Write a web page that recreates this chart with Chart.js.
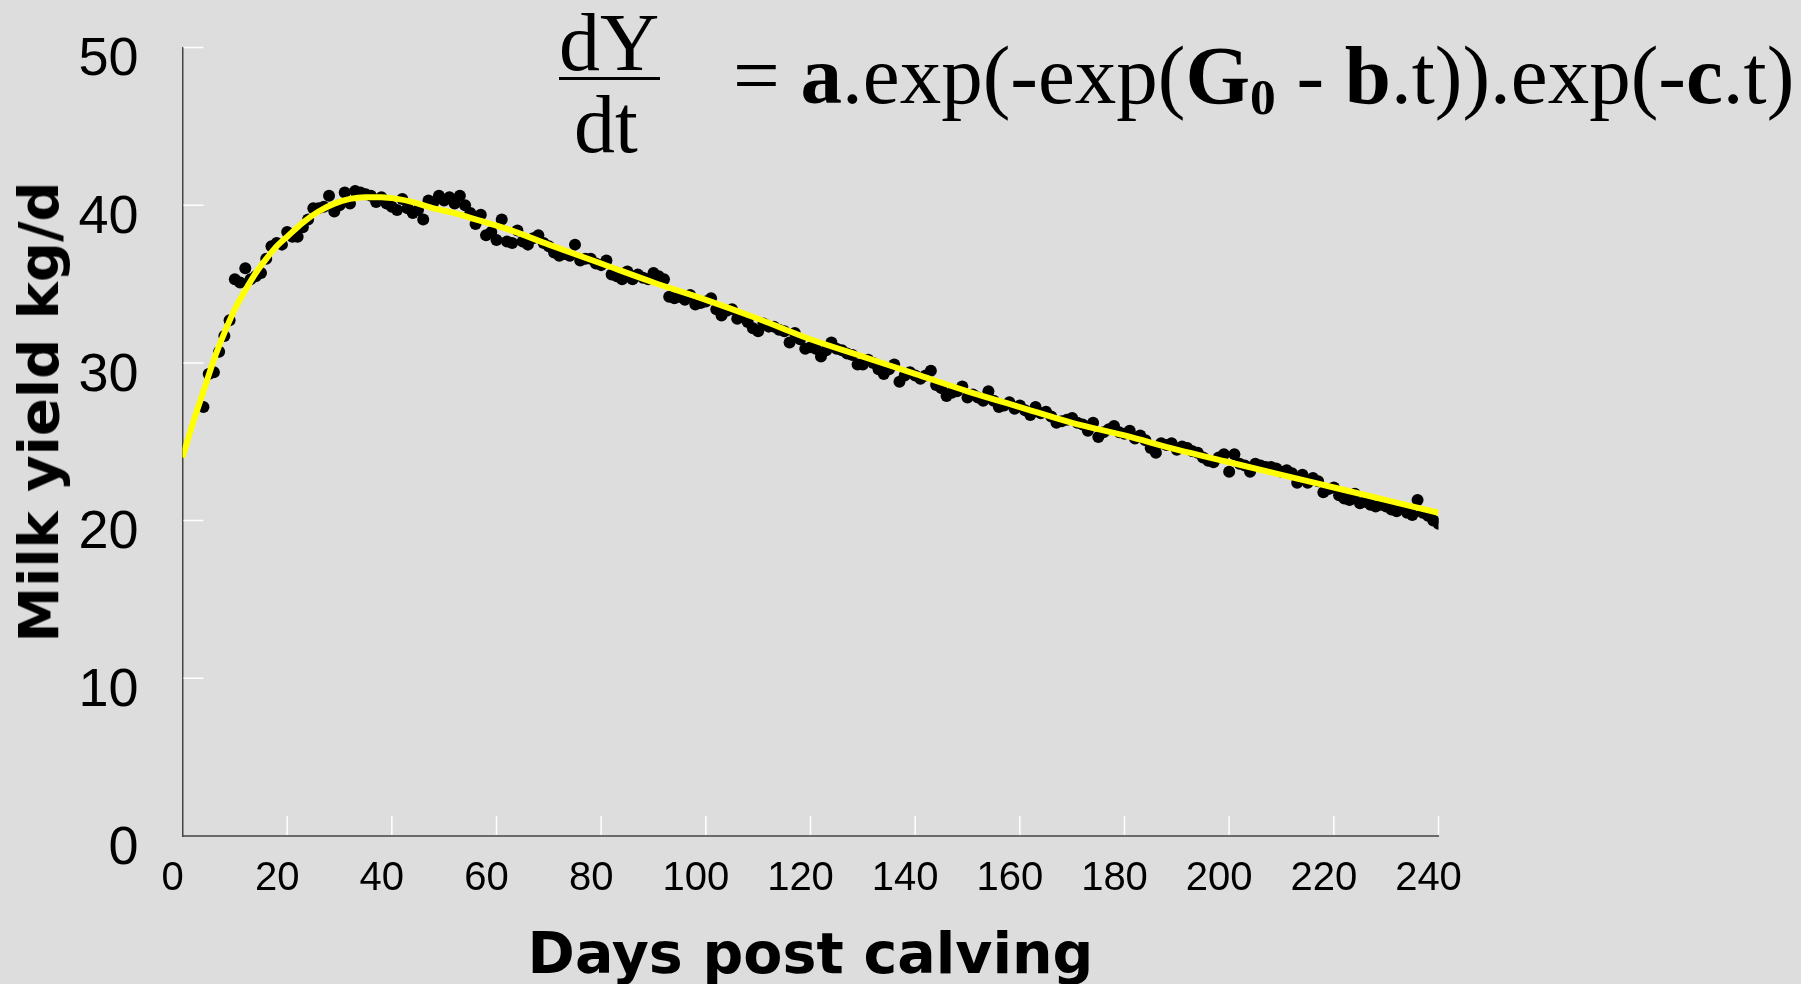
<!DOCTYPE html>
<html>
<head>
<meta charset="utf-8">
<script src="https://cdn.jsdelivr.net/npm/chart.js@4.4.1/dist/chart.umd.min.js"></script>
<style>
    html, body { margin: 0; padding: 0; background: #dddddd; }
    #wrap { position: relative; width: 1801px; height: 984px; overflow: hidden; }
    #milkChart { position: absolute; left: 0; top: 0; }
    .eq { position: absolute; font-family: "Liberation Serif", "Times New Roman", serif; font-size: 82px; line-height: 82px; color: #000; white-space: nowrap; }
    .eq b { font-weight: bold; }
    .eq sub { font-size: 0.62em; vertical-align: -0.22em; line-height: 0; font-weight: bold; }
    #bar { position: absolute; left: 559px; top: 77px; width: 101px; height: 3px; background: #000; }
    #yTitle { position: absolute; left: 39px; top: 412px; transform: translate(-50%, -50%) rotate(-90deg);
        font-family: "DejaVu Sans", sans-serif; font-weight: bold; font-size: 56px; line-height: 56px; white-space: nowrap; color: #000; }
</style>
</head>
<body>
<div id="wrap">
    <canvas id="milkChart" width="1801" height="984"></canvas>
    <div class="eq" style="left:559px; top:2px;">dY</div>
    <div id="bar"></div>
    <div class="eq" style="left:574px; top:84px;">dt</div>
    <div class="eq" style="left:733px; top:34px; font-size:83px; line-height:83px;">= <b>a</b>.exp(-exp(<b>G</b><sub>0</sub> - <b>b</b>.t)).exp(-<b>c</b>.t)</div>
    <div id="yTitle">Milk yield kg/d</div>
</div>
<script>
var days = [4, 5, 6, 7, 8, 9,
    10, 11, 12, 13, 14, 15, 16, 17, 18, 19,
    20, 21, 22, 23, 24, 25, 26, 27, 28, 29,
    30, 31, 32, 33, 34, 35, 36, 37, 38, 39,
    40, 41, 42, 43, 44, 45, 46, 47, 48, 49,
    50, 51, 52, 53, 54, 55, 56, 57, 58, 59,
    60, 61, 62, 63, 64, 65, 66, 67, 68, 69,
    70, 71, 72, 73, 74, 75, 76, 77, 78, 79,
    80, 81, 82, 83, 84, 85, 86, 87, 88, 89,
    90, 91, 92, 93, 94, 95, 96, 97, 98, 99,
    100, 101, 102, 103, 104, 105, 106, 107, 108, 109,
    110, 111, 112, 113, 114, 115, 116, 117, 118, 119,
    120, 121, 122, 123, 124, 125, 126, 127, 128, 129,
    130, 131, 132, 133, 134, 135, 136, 137, 138, 139,
    140, 141, 142, 143, 144, 145, 146, 147, 148, 149,
    150, 151, 152, 153, 154, 155, 156, 157, 158, 159,
    160, 161, 162, 163, 164, 165, 166, 167, 168, 169,
    170, 171, 172, 173, 174, 175, 176, 177, 178, 179,
    180, 181, 182, 183, 184, 185, 186, 187, 188, 189,
    190, 191, 192, 193, 194, 195, 196, 197, 198, 199,
    200, 201, 202, 203, 204, 205, 206, 207, 208, 209,
    210, 211, 212, 213, 214, 215, 216, 217, 218, 219,
    220, 221, 222, 223, 224, 225, 226, 227, 228, 229,
    230, 231, 232, 233, 234, 235, 236, 237, 238, 239,
    240];
var milk = [27.2, 29.3, 29.4, 30.7, 31.7, 32.7,
    35.3, 35.1, 36.0, 35.3, 35.5, 35.7, 36.6, 37.4, 37.6, 37.5,
    38.3, 38.0, 38.0, 38.6, 39.1, 39.8, 39.8, 39.9, 40.6, 39.6,
    40.0, 40.8, 40.1, 40.9, 40.8, 40.7, 40.6, 40.2, 40.5, 40.1,
    39.9, 39.7, 40.4, 39.8, 39.5, 39.7, 39.1, 40.3, 40.2, 40.6,
    40.3, 40.5, 40.1, 40.6, 40.0, 39.5, 38.8, 39.4, 38.1, 38.3,
    37.8, 39.1, 37.7, 37.6, 38.4, 37.7, 37.5, 37.9, 38.1, 37.6,
    37.4, 37.0, 36.8, 36.9, 36.8, 37.5, 36.5, 36.6, 36.6, 36.3,
    36.2, 36.5, 35.6, 35.5, 35.3, 35.8, 35.3, 35.6, 35.4, 35.3,
    35.7, 35.5, 35.3, 34.2, 34.1, 34.2, 34.0, 34.3, 33.7, 33.8,
    33.9, 34.1, 33.4, 33.0, 33.3, 33.4, 32.8, 32.9, 32.6, 32.2,
    32.0, 32.5, 32.3, 32.3, 32.1, 32.0, 31.3, 31.9, 31.5, 30.9,
    31.0, 30.9, 30.4, 30.8, 31.3, 30.9, 30.8, 30.6, 30.5, 29.9,
    29.9, 30.2, 30.0, 29.6, 29.3, 29.6, 29.9, 28.8, 29.2, 29.4,
    29.2, 29.0, 29.2, 29.5, 28.6, 28.4, 27.9, 28.1, 28.2, 28.5,
    27.8, 28.0, 27.8, 27.6, 28.2, 27.6, 27.2, 27.3, 27.5, 27.1,
    27.3, 27.0, 26.7, 27.2, 26.8, 26.9, 26.6, 26.2, 26.3, 26.4,
    26.5, 26.2, 26.1, 25.7, 26.2, 25.3, 25.6, 25.8, 26.0, 25.6,
    25.5, 25.7, 25.2, 25.4, 25.1, 24.6, 24.3, 24.9, 24.8, 24.9,
    24.5, 24.7, 24.6, 24.4, 24.3, 24.0, 23.8, 23.7, 24.0, 24.2,
    23.1, 24.2, 23.6, 23.5, 23.1, 23.6, 23.5, 23.4, 23.4, 23.3,
    23.1, 23.2, 23.0, 22.4, 22.9, 22.4, 22.7, 22.5, 21.8, 22.0,
    22.1, 21.6, 21.4, 21.3, 21.7, 21.1, 21.2, 21.0, 20.9, 21.0,
    20.9, 20.7, 20.6, 20.8, 20.5, 20.35, 21.3, 20.5, 20.3, 20.0,
    19.8];

// fitted curve
var fitDays = [0, 2, 4, 6, 8, 10, 12, 14, 16, 18, 20, 23, 26, 29, 32, 35, 38, 41, 44, 48,
    52, 57, 62, 70, 80, 90, 100, 110, 120, 130, 140, 150, 160, 170, 180, 190, 200, 210, 220, 230, 240];
var fitYield = [24.0, 26.2, 28.2, 30.2, 31.9, 33.4, 34.6, 35.7, 36.6, 37.4, 38.0, 38.9, 39.6, 40.1, 40.4, 40.5, 40.5, 40.4, 40.2, 39.8,
    39.5, 39.0, 38.5, 37.5, 36.3, 35.1, 34.0, 32.8, 31.5, 30.4, 29.3, 28.2, 27.2, 26.2, 25.4, 24.5, 23.7, 22.9, 22.1, 21.3, 20.5];

var xTicks = [0, 20, 40, 60, 80, 100, 120, 140, 160, 180, 200, 220, 240];
var yTicks = [0, 10, 20, 30, 40, 50];

// white tick marks pointing into the plot
var inwardTicks = {
    id: 'inwardTicks',
    beforeDatasetsDraw: function(chart) {
        var ctx = chart.ctx, area = chart.chartArea;
        var x = chart.scales.x, y = chart.scales.y;
        ctx.save();
        ctx.strokeStyle = '#ffffff';
        ctx.lineWidth = 1.5;
        ctx.beginPath();
        xTicks.forEach(function(v) {
            if (v === 0) return;
            var px = x.getPixelForValue(v);
            ctx.moveTo(px, area.bottom - 1);
            ctx.lineTo(px, area.bottom - 20);
        });
        yTicks.forEach(function(v) {
            if (v === 0) return;
            var py = y.getPixelForValue(v);
            ctx.moveTo(area.left + 1, py);
            ctx.lineTo(area.left + 21, py);
        });
        ctx.stroke();
        ctx.restore();
    }
};

function noPad(scale) {
    scale.paddingTop = 0;
    scale.paddingBottom = 0;
    scale.paddingLeft = 0;
    scale.paddingRight = 0;
}

var ctx = document.getElementById('milkChart').getContext('2d');
var milkChart = new Chart(ctx, {
    type: 'scatter',
    data: {
        datasets: [{
            type: 'line',
            label: 'Fitted',
            data: fitDays.map(function(d, i) { return { x: d, y: fitYield[i] }; }),
            borderColor: '#ffff00',
            borderWidth: 6,
            pointRadius: 0,
            fill: false,
            cubicInterpolationMode: 'monotone',
            order: 0
        }, {
            label: 'Milk yield',
            data: days.map(function(d, i) { return { x: d, y: milk[i] }; }),
            backgroundColor: '#000000',
            borderWidth: 0,
            pointRadius: 6,
            order: 1
        }]
    },
    options: {
        responsive: false,
        animation: false,
        layout: {
            padding: { left: 0, right: 362.5, top: 47.5, bottom: 0 }
        },
        plugins: {
            legend: { display: false },
            tooltip: { enabled: false }
        },
        scales: {
            x: {
                type: 'linear',
                min: 0,
                max: 240,
                afterBuildTicks: function(scale) {
                    scale.ticks = xTicks.map(function(v) { return { value: v }; });
                },
                afterFit: function(scale) { scale.height = 148; noPad(scale); },
                grid: { display: false, drawTicks: false },
                border: { display: true, color: '#6a6a6a', width: 2 },
                ticks: {
                    color: '#000',
                    padding: 19,
                    labelOffset: -10,
                    maxRotation: 0,
                    font: { family: '"Liberation Sans", Arial, sans-serif', size: 40 }
                },
                title: {
                    display: true,
                    text: 'Days post calving',
                    color: '#000',
                    padding: { top: 0, bottom: -3 },
                    font: { family: '"DejaVu Sans", sans-serif', size: 57, weight: 'bold', lineHeight: 1 }
                }
            },
            y: {
                min: 0,
                max: 50,
                afterBuildTicks: function(scale) {
                    scale.ticks = yTicks.map(function(v) { return { value: v }; });
                },
                afterFit: function(scale) { scale.width = 182.5; noPad(scale); },
                grid: { display: false, drawTicks: false },
                border: { display: true, color: '#444444', width: 1.5 },
                ticks: {
                    color: '#000',
                    padding: 44,
                    labelOffset: 13,
                    font: { family: '"Liberation Sans", Arial, sans-serif', size: 54 }
                }
            }
        }
    },
    plugins: [inwardTicks]
});
</script>
</body>
</html>
